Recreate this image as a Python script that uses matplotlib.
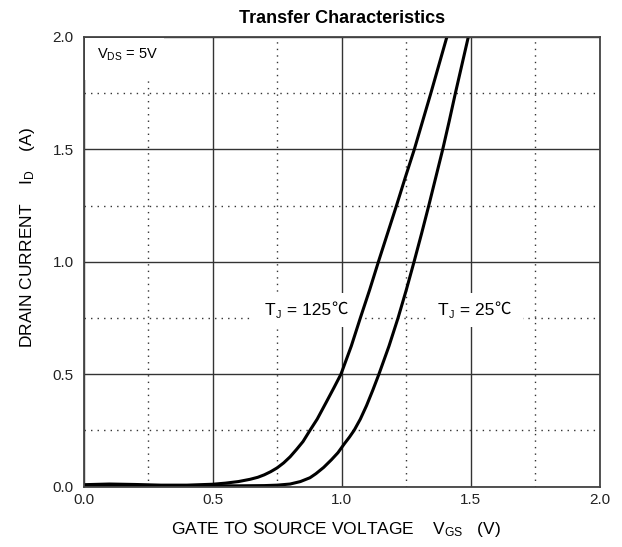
import matplotlib
matplotlib.use("Agg")
import matplotlib.pyplot as plt
from matplotlib.ticker import MultipleLocator
from matplotlib.patches import Rectangle

plt.rcParams['font.family'] = ['Liberation Sans', 'DejaVu Sans']
plt.rcParams['mathtext.default'] = 'regular'

# Data (V_GS in volts, I_D in amps)
vgs_125 = [0.0, 0.1, 0.2, 0.3, 0.4, 0.5, 0.55, 0.6, 0.645, 0.675, 0.7, 0.725, 0.75,
           0.775, 0.8, 0.825, 0.85, 0.877, 0.905, 0.94, 0.97, 0.997, 1.037, 1.072,
           1.108, 1.142, 1.177, 1.212, 1.246, 1.281, 1.313, 1.345, 1.376, 1.407]
id_125 = [0.008, 0.011, 0.009, 0.006, 0.006, 0.01, 0.015, 0.022, 0.032, 0.041, 0.052,
          0.066, 0.083, 0.105, 0.132, 0.165, 0.2, 0.25, 0.3, 0.375, 0.44, 0.5, 0.625,
          0.75, 0.875, 1.0, 1.125, 1.25, 1.375, 1.5, 1.625, 1.75, 1.875, 2.0]

vgs_25 = [0.0, 0.2, 0.4, 0.6, 0.7, 0.75, 0.8, 0.84, 0.877, 0.9, 0.93, 0.96, 0.985,
          1.01, 1.03, 1.048, 1.072, 1.096, 1.12, 1.144, 1.183, 1.218, 1.25, 1.28,
          1.309, 1.337, 1.364, 1.391, 1.416, 1.44, 1.465, 1.49]
id_25 = [0.004, 0.004, 0.003, 0.003, 0.004, 0.006, 0.011, 0.022, 0.039, 0.057, 0.085,
         0.119, 0.15, 0.19, 0.22, 0.25, 0.30, 0.36, 0.428, 0.5, 0.625, 0.75, 0.875,
         1.0, 1.125, 1.25, 1.375, 1.5, 1.625, 1.75, 1.875, 2.0]

x_ticks = [0.0, 0.5, 1.0, 1.5, 2.0]
y_ticks = [0.0, 0.5, 1.0, 1.5, 2.0]

fig = plt.figure(figsize=(6.22, 5.47), dpi=100)
ax = fig.add_axes([83.5 / 622, 60.5 / 547, 516.5 / 622, 449.5 / 547])

ax.set_xlim(0, 2.0)
ax.set_ylim(0, 2.0)
ax.set_xticks(x_ticks)
ax.set_yticks(y_ticks)
ax.set_xticklabels([f"{v:.1f}" for v in x_ticks])
ax.set_yticklabels([f"{v:.1f}" for v in y_ticks])
ax.xaxis.set_minor_locator(MultipleLocator(0.25))
ax.yaxis.set_minor_locator(MultipleLocator(0.25))
ax.tick_params(which='both', length=0, labelsize=11, colors='#222222')
ax.tick_params(axis='x', pad=5)
ax.tick_params(axis='y', pad=7)

ax.set_axisbelow(True)
ax.grid(which='major', color='#333333', linewidth=1.0, linestyle='-')
ax.grid(which='minor', color='#333333', linewidth=1.0, linestyle=(0, (1, 3.7)))
for s in ax.spines.values():
    s.set_color('#444444')
    s.set_linewidth(1.3)

ax.plot(vgs_125, id_125, color='black', linewidth=2.2, zorder=2.1,
        solid_joinstyle='round')
ax.plot(vgs_25, id_25, color='black', linewidth=2.2, zorder=2.1,
        solid_joinstyle='round')

# white backgrounds behind the in-plot labels
for (x0, x1, y0, y1) in [(0.645, 1.068, 0.71, 0.86), (1.33, 1.70, 0.71, 0.86),
                         (0.005, 0.31, 1.81, 1.995)]:
    ax.add_patch(Rectangle((x0, y0), x1 - x0, y1 - y0, fc='white', ec='none', zorder=1))


def temp_label(x, y, value, size=12.5):
    t1 = ax.text(x, y, 'T', ha='left', va='baseline', fontsize=size, zorder=3)
    t2 = ax.annotate('J', xy=(1, 0), xycoords=t1, xytext=(0.3, -2.0),
                     textcoords='offset points', ha='left', va='bottom',
                     fontsize=size * 0.62, zorder=3)
    t3 = ax.annotate(f' = {value}', xy=(1, 0), xycoords=(t2, t1), xytext=(0.3, 0),
                     textcoords='offset points', ha='left', va='bottom',
                     fontsize=size, zorder=3)
    ax.annotate('℃', xy=(1, 0), xycoords=(t3, t1), xytext=(0.2, 0),
                textcoords='offset points', ha='left', va='bottom', fontsize=size * 0.95,
                family=['Noto Sans CJK SC', 'DejaVu Sans'], zorder=3)


temp_label(0.703, 0.765, '125')
temp_label(1.373, 0.765, '25')

ax.text(0.053, 1.92, r'V$_{DS}$ = 5V', ha='left', va='center', fontsize=10.5, zorder=3)

ax.set_title('Transfer Characteristics', fontsize=13, fontweight='bold', pad=10)
ax.text(0.489, -0.0956, r'GATE TO SOURCE VOLTAGE    V$_{GS}$   (V)',
        transform=ax.transAxes, ha='center', va='center', fontsize=12.5)
ax.text(-0.109, 0.554, r'DRAIN CURRENT    I$_{D}$    (A)',
        transform=ax.transAxes, ha='center', va='center', rotation=90, fontsize=12.5)

fig.savefig('out.png', dpi=100)
